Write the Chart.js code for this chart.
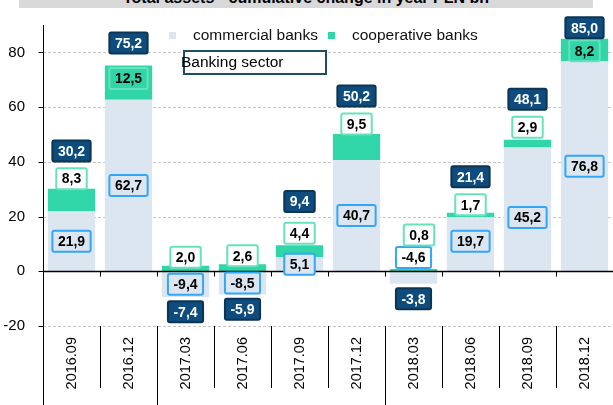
<!DOCTYPE html>
<html>
<head>
<meta charset="utf-8">
<script src="https://cdn.jsdelivr.net/npm/chart.js@4"></script>
<style>
  html, body { margin: 0; padding: 0; background: #fff; overflow: hidden; }
  #wrap { position: relative; width: 613px; height: 405px; }
  #title {
    position: absolute; left: 19px; top: -12px; width: 574px; height: 20px;
    background: #d9d9d9; font: bold 16px "Liberation Sans", Arial, sans-serif;
    line-height: 20px; text-align: center; color: #000; white-space: nowrap;
  }
  canvas { position: absolute; left: 0; top: 0; }
</style>
</head>
<body>
<div id="wrap">
  <canvas id="c" width="613" height="405"></canvas>
  <div id="title">Total assets - cumulative change in year PLN bn</div>
</div>
<script>
const categories = ["2016.09", "2016.12", "2017.03", "2017.06", "2017.09", "2017.12", "2018.03", "2018.06", "2018.09", "2018.12"];
const commercial = [21.9, 62.7, -9.4, -8.5, 5.1, 40.7, -4.6, 19.7, 45.2, 76.8];
const cooperative = [8.3, 12.5, 2.0, 2.6, 4.4, 9.5, 0.8, 1.7, 2.9, 8.2];
const totals = [30.2, 75.2, -7.4, -5.9, 9.4, 50.2, -3.8, 21.4, 48.1, 85.0];
const yTicks = [-20, 0, 20, 40, 60, 80];

// label nudges in px (labels were hand-placed in the original)
const commNudge = [0, 0, 0, 0, 0, 0, -20, -3, 8, 0];
const coopNudge = [-10, 13, -8.5, -8.4, -12, -10, -34, -8, -12.5, 12];
const coopNudgeX = [0, 0, 0, 0, 0, 0, 5.5, 0, 0, 0];
const totalNudge = [-37.6, -22.6, 14.7, 14.7, -43.7, -38, 15, -36, -40.5, -11];

const COMM = "#dce6f1";
const COOP = "#30d5a8";
const FONT = "'Liberation Sans', Arial, sans-serif";
Chart.defaults.font.family = FONT;

const fmt = v => v.toFixed(1).replace(".", ",");

function box(ctx, x, y, text, fill, stroke, color) {
  ctx.font = "bold 14px " + FONT;
  const w = ctx.measureText(text).width + 11, h = 21;
  ctx.beginPath();
  ctx.roundRect(x - w / 2, y - h / 2, w, h, 2);
  if (fill) { ctx.fillStyle = fill; ctx.fill(); }
  ctx.lineWidth = 2;
  ctx.strokeStyle = stroke;
  ctx.stroke();
  ctx.fillStyle = color;
  ctx.textAlign = "center";
  ctx.textBaseline = "middle";
  ctx.fillText(text, x, y + 1);
}

const frame = {
  id: "frame",
  beforeDatasetsDraw(chart) {
    const { ctx, chartArea: a, scales: { y } } = chart;
    ctx.save();
    ctx.strokeStyle = "#c6c6c6";
    ctx.lineWidth = 1;
    ctx.setLineDash([3, 2]);
    yTicks.forEach(v => {
      if (v === 0) return;
      const py = Math.round(y.getPixelForValue(v)) + 0.5;
      ctx.beginPath(); ctx.moveTo(a.left, py); ctx.lineTo(a.right, py); ctx.stroke();
    });
    ctx.restore();
  },
  afterDatasetsDraw(chart) {
    const { ctx, chartArea: a, scales: { x, y } } = chart;
    ctx.save();
    ctx.strokeStyle = "#000";
    ctx.lineWidth = 1;
    // y axis
    const ax = Math.round(a.left) + 0.5;
    ctx.beginPath(); ctx.moveTo(ax, a.top); ctx.lineTo(ax, 405); ctx.stroke();
    yTicks.forEach(v => {
      const py = Math.round(y.getPixelForValue(v)) + 0.5;
      ctx.beginPath(); ctx.moveTo(ax - 5, py); ctx.lineTo(ax, py); ctx.stroke();
    });
    // zero line with ticks between categories
    const zy = Math.round(y.getPixelForValue(0)) + 0.5;
    ctx.lineWidth = 1.5;
    ctx.beginPath(); ctx.moveTo(a.left, zy); ctx.lineTo(a.right, zy); ctx.stroke();
    ctx.lineWidth = 1;
    const step = (a.right - a.left) / categories.length;
    for (let i = 1; i < categories.length; i++) {
      const px = Math.round(a.left + i * step) + 0.5;
      ctx.beginPath(); ctx.moveTo(px, zy); ctx.lineTo(px, zy + 5); ctx.stroke();
      // separators below the plot, longer at year change
      const yearBreak = categories[i].endsWith(".03");
      ctx.beginPath(); ctx.moveTo(px, a.bottom); ctx.lineTo(px, yearBreak ? 405 : 388); ctx.stroke();
    }
    ctx.restore();

    // data labels
    ctx.save();
    categories.forEach((c, i) => {
      const cx = x.getPixelForValue(i);
      const cm = commercial[i], cp = cooperative[i];
      const base = cm > 0 ? cm : 0;
      // commercial
      const segMid = y.getPixelForValue(cm / 2);
      const cy = segMid + commNudge[i];
      const cTop = y.getPixelForValue(Math.max(cm, 0)), cBot = y.getPixelForValue(Math.min(cm, 0));
      box(ctx, cx, cy, fmt(cm), (cy > cTop && cy < cBot) ? COMM : "#fff", "#33a6f7", "#000");
      // cooperative
      const top = y.getPixelForValue(base + cp);
      const sBot = y.getPixelForValue(base);
      const py = top + coopNudge[i];
      box(ctx, cx + coopNudgeX[i], py, fmt(cp), (py > top && py < sBot) ? null : "#fff", "#66e2bd", "#000");
      // total
      const t = totals[i];
      const anchor = t >= 0 ? top : y.getPixelForValue(cm);
      box(ctx, cx, anchor + totalNudge[i], fmt(t), "#0f4c7e", "#0b3552", "#fff");
    });
    ctx.restore();

    // legend and caption box
    ctx.save();
    ctx.font = "15.5px " + FONT;
    ctx.textBaseline = "middle";
    ctx.textAlign = "left";
    ctx.fillStyle = COMM; ctx.fillRect(169, 32, 7, 7);
    ctx.fillStyle = COOP; ctx.fillRect(328, 32, 7, 7);
    ctx.fillStyle = "#111";
    ctx.fillText("commercial banks", 193, 36);
    ctx.fillText("cooperative banks", 352, 36);
    ctx.fillStyle = "#fff";
    ctx.fillRect(183, 51, 143, 23);
    ctx.strokeStyle = "#1d4f62";
    ctx.lineWidth = 2;
    ctx.strokeRect(184, 51, 142, 23);
    ctx.fillStyle = "#000";
    ctx.fillText("Banking sector", 181, 63);
    ctx.restore();
  }
};

new Chart(document.getElementById("c"), {
  type: "bar",
  data: {
    labels: categories,
    datasets: [
      { label: "commercial banks", data: commercial, backgroundColor: COMM, barPercentage: 0.83, categoryPercentage: 1 },
      { label: "cooperative banks", data: cooperative, backgroundColor: COOP, barPercentage: 0.83, categoryPercentage: 1 }
    ]
  },
  options: {
    responsive: false,
    animation: false,
    layout: { padding: { top: 25, left: 0, right: 0, bottom: 0 } },
    plugins: { legend: { display: false }, tooltip: { enabled: false }, title: { display: false } },
    scales: {
      x: {
        stacked: true,
        grid: { display: false },
        border: { display: false },
        ticks: { autoSkip: false, minRotation: 90, maxRotation: 90, padding: 3, color: "#000", font: { size: 14.5 } },
        afterFit: s => { s.height = 79; }
      },
      y: {
        stacked: true,
        min: -20,
        max: 90,
        grid: { display: false },
        border: { display: false },
        afterBuildTicks: s => { s.ticks = yTicks.map(v => ({ value: v })); },
        ticks: { padding: 10, color: "#000", font: { size: 15 } },
        afterFit: s => { s.width = 43; }
      }
    }
  },
  plugins: [frame]
});
</script>
</body>
</html>
